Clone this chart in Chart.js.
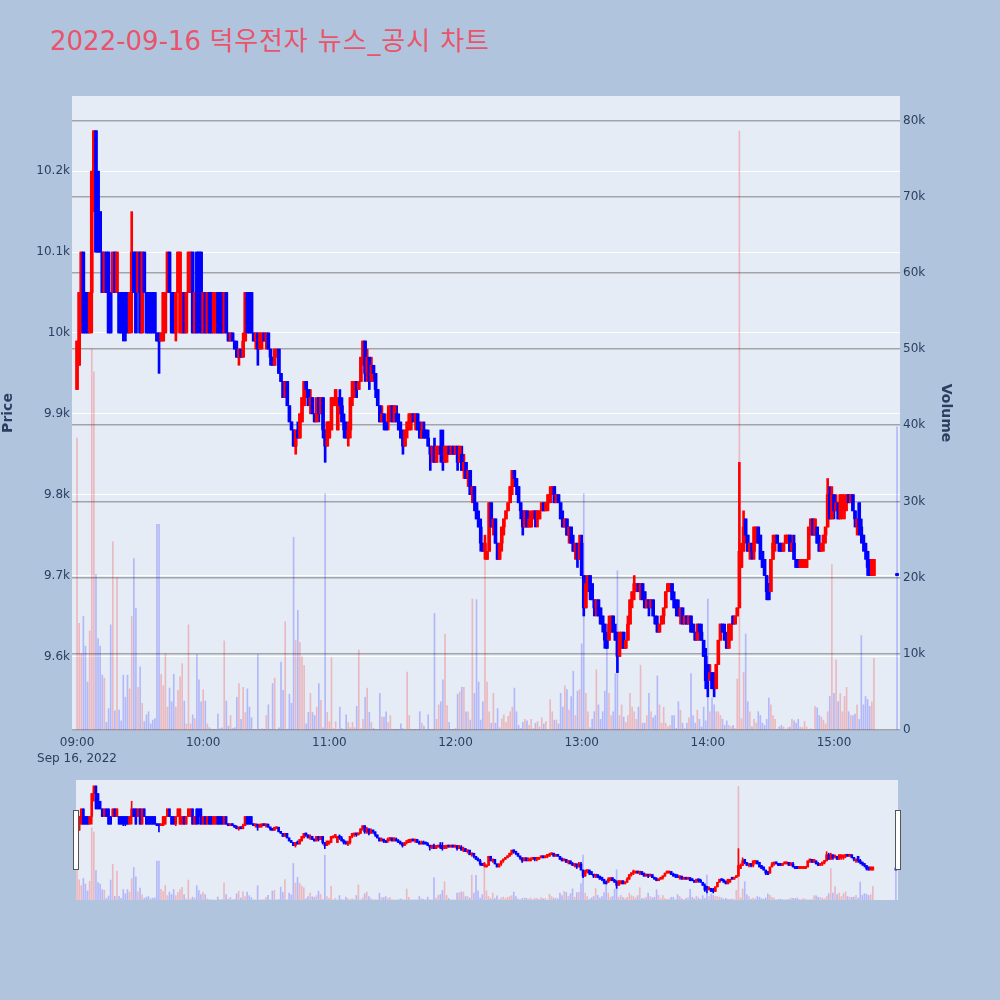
<!DOCTYPE html>
<html>
<head>
<meta charset="utf-8">
<script src="https://cdn.jsdelivr.net/npm/chart.js"></script>
<style>
  body { margin: 0; width: 1000px; height: 1000px; background: #b0c4de; position: relative; overflow: hidden; }
  #title { position: absolute; left: 50px; top: 20px; font: 26px "DejaVu Sans", "Noto Sans CJK KR", sans-serif; color: #e9546b; white-space: nowrap; }
  #title span { letter-spacing: 0.9px; }
  #mainBox { position: absolute; left: 0; top: 0; }
  #sliderBox { position: absolute; left: 76px; top: 780px; }
  .handle { position: absolute; top: 810px; width: 4px; height: 58px; background: #fff; border: 1px solid #555; }
</style>
</head>
<body>
<div id="title">2022-09-16 <span>덕우전자 뉴스_공시 차트</span></div>
<div id="mainBox"><canvas id="mainChart" width="1000" height="770"></canvas></div>
<div id="sliderBox"><canvas id="sliderChart" width="822" height="120"></canvas></div>
<div class="handle" style="left:73px"></div>
<div class="handle" style="left:895px"></div>
<script>
// 1-minute candles 09:00 .. 15:19, then the 15:30 closing auction
const opens = [
  9930, 9960, 10000, 10100, 10050, 10050, 10000, 10050, 10200, 10250,
  10200, 10150, 10100, 10050, 10100, 10100, 10050, 10050, 10100, 10050,
  10050, 10050, 10050, 10050, 10050, 10000, 10050, 10100, 10100, 10050,
  10100, 10000, 10100, 10050, 10050, 10050, 10050, 10050, 10000, 10000,
  9990, 9990, 10000, 10050, 10100, 10050, 10050, 10000, 10050, 10000,
  10000, 10050, 10000, 10050, 10050, 10100, 10000, 10100, 10100, 10100,
  10000, 10050, 10000, 10050, 10050, 10000, 10000, 10050, 10050, 10050,
  10000, 10050, 10000, 9990, 10000, 9990, 9980, 9970, 9980, 9970,
  9990, 10050, 10050, 10050, 10000, 9990, 10000, 9980, 9990, 10000,
  9990, 10000, 9980, 9970, 9960, 9970, 9980, 9950, 9940, 9920,
  9940, 9910, 9890, 9880, 9860, 9880, 9870, 9890, 9910, 9940,
  9930, 9910, 9920, 9900, 9890, 9920, 9900, 9920, 9880, 9860,
  9870, 9880, 9910, 9920, 9880, 9920, 9910, 9890, 9880, 9870,
  9880, 9920, 9930, 9940, 9930, 9940, 9970, 9990, 9950, 9970,
  9940, 9960, 9950, 9930, 9910, 9890, 9900, 9890, 9890, 9900,
  9910, 9890, 9900, 9890, 9880, 9870, 9860, 9880, 9880, 9890,
  9900, 9890, 9900, 9880, 9870, 9880, 9880, 9870, 9860, 9850,
  9860, 9840, 9850, 9860, 9860, 9840, 9850, 9860, 9850, 9860,
  9850, 9860, 9840, 9850, 9830, 9840, 9820, 9830, 9800, 9810,
  9790, 9770, 9760, 9740, 9730, 9720, 9730, 9790, 9760, 9770,
  9740, 9720, 9740, 9760, 9770, 9780, 9790, 9810, 9830, 9820,
  9810, 9790, 9780, 9760, 9780, 9760, 9760, 9770, 9780, 9770,
  9770, 9780, 9790, 9780, 9790, 9790, 9800, 9810, 9790, 9800,
  9790, 9770, 9760, 9770, 9750, 9760, 9740, 9730, 9740, 9720,
  9740, 9700, 9660, 9690, 9700, 9690, 9670, 9660, 9670, 9660,
  9650, 9640, 9620, 9620, 9630, 9650, 9630, 9620, 9600, 9610,
  9630, 9610, 9620, 9640, 9670, 9680, 9680, 9690, 9680, 9690,
  9680, 9660, 9670, 9660, 9670, 9650, 9640, 9630, 9640, 9650,
  9660, 9680, 9680, 9690, 9670, 9670, 9660, 9650, 9660, 9640,
  9650, 9640, 9650, 9640, 9630, 9620, 9640, 9630, 9620, 9600,
  9590, 9570, 9580, 9570, 9560, 9590, 9620, 9640, 9630, 9620,
  9610, 9620, 9650, 9640, 9650, 9660, 9710, 9730, 9770, 9750,
  9730, 9740, 9730, 9750, 9760, 9750, 9730, 9720, 9700, 9690,
  9680, 9720, 9740, 9750, 9740, 9740, 9730, 9740, 9740, 9750,
  9730, 9740, 9720, 9720, 9710, 9710, 9710, 9710, 9720, 9760,
  9770, 9750, 9760, 9740, 9730, 9740, 9750, 9760, 9800, 9770,
  9800, 9780, 9790, 9770, 9780, 9780, 9790, 9800, 9790, 9800,
  9780, 9760, 9790, 9760, 9750, 9740, 9730, 9720, 9700, 9700,
  9700
];
const highs = [
  9990, 10050, 10100, 10100, 10050, 10050, 10050, 10200, 10250, 10250,
  10200, 10150, 10100, 10100, 10100, 10100, 10050, 10100, 10100, 10100,
  10050, 10050, 10050, 10050, 10050, 10050, 10150, 10100, 10100, 10100,
  10100, 10100, 10100, 10050, 10050, 10050, 10050, 10050, 10000, 10000,
  10000, 10050, 10050, 10100, 10100, 10050, 10050, 10050, 10100, 10100,
  10050, 10050, 10050, 10100, 10100, 10100, 10050, 10100, 10100, 10100,
  10050, 10050, 10050, 10050, 10050, 10050, 10050, 10050, 10050, 10050,
  10050, 10050, 10000, 10000, 10000, 9990, 9990, 9980, 9980, 10000,
  10050, 10050, 10050, 10050, 10000, 10000, 10000, 10000, 10000, 10000,
  10000, 10000, 9980, 9970, 9980, 9980, 9980, 9950, 9940, 9940,
  9940, 9910, 9890, 9880, 9880, 9890, 9900, 9920, 9940, 9940,
  9930, 9930, 9920, 9900, 9920, 9920, 9920, 9920, 9880, 9890,
  9890, 9920, 9920, 9930, 9920, 9930, 9920, 9900, 9890, 9890,
  9920, 9940, 9940, 9940, 9940, 9970, 9990, 9990, 9980, 9970,
  9970, 9960, 9950, 9930, 9910, 9910, 9900, 9890, 9910, 9910,
  9910, 9910, 9910, 9900, 9890, 9880, 9880, 9890, 9900, 9900,
  9900, 9900, 9900, 9890, 9890, 9890, 9880, 9880, 9860, 9860,
  9870, 9860, 9860, 9880, 9880, 9860, 9860, 9860, 9860, 9860,
  9860, 9860, 9860, 9860, 9850, 9840, 9830, 9830, 9810, 9810,
  9790, 9780, 9770, 9740, 9750, 9730, 9790, 9790, 9770, 9770,
  9740, 9740, 9760, 9770, 9780, 9790, 9810, 9830, 9830, 9820,
  9810, 9790, 9780, 9780, 9780, 9780, 9780, 9780, 9780, 9780,
  9780, 9790, 9790, 9790, 9800, 9810, 9810, 9810, 9800, 9800,
  9790, 9780, 9770, 9770, 9760, 9760, 9750, 9740, 9740, 9750,
  9750, 9700, 9700, 9700, 9700, 9690, 9670, 9670, 9670, 9660,
  9650, 9640, 9630, 9650, 9650, 9650, 9640, 9630, 9630, 9630,
  9630, 9620, 9650, 9670, 9680, 9700, 9690, 9690, 9690, 9690,
  9680, 9670, 9670, 9670, 9670, 9650, 9650, 9640, 9650, 9660,
  9680, 9690, 9690, 9690, 9680, 9670, 9670, 9660, 9660, 9650,
  9650, 9650, 9650, 9640, 9630, 9640, 9640, 9640, 9620, 9610,
  9590, 9590, 9580, 9580, 9590, 9620, 9640, 9640, 9640, 9630,
  9640, 9640, 9650, 9650, 9660, 9840, 9740, 9780, 9770, 9750,
  9740, 9740, 9760, 9760, 9760, 9750, 9730, 9720, 9700, 9690,
  9720, 9750, 9750, 9750, 9740, 9740, 9740, 9750, 9750, 9750,
  9750, 9750, 9720, 9720, 9720, 9720, 9720, 9720, 9760, 9770,
  9770, 9770, 9760, 9750, 9740, 9750, 9760, 9820, 9810, 9810,
  9800, 9800, 9790, 9800, 9800, 9800, 9800, 9800, 9800, 9800,
  9780, 9770, 9790, 9770, 9750, 9740, 9730, 9720, 9720, 9720,
  9700
];
const lows = [
  9930, 9960, 10000, 10000, 10000, 10000, 10000, 10000, 10150, 10100,
  10100, 10100, 10050, 10050, 10050, 10000, 10000, 10050, 10050, 10050,
  10000, 10000, 9990, 9990, 10000, 10000, 10000, 10050, 10000, 10050,
  10000, 10000, 10050, 10000, 10000, 10000, 10000, 10000, 9990, 9950,
  9990, 9990, 10000, 10050, 10050, 10000, 10000, 9990, 10050, 10000,
  10000, 10000, 10000, 10050, 10050, 10000, 10000, 10000, 10000, 10000,
  10000, 10000, 10000, 10000, 10000, 10000, 10000, 10000, 10000, 10000,
  10000, 10000, 9990, 9990, 9990, 9980, 9970, 9960, 9970, 9970,
  9990, 10000, 10000, 10000, 9990, 9980, 9960, 9980, 9980, 9990,
  9980, 9980, 9960, 9960, 9960, 9970, 9950, 9940, 9920, 9920,
  9910, 9890, 9880, 9860, 9850, 9870, 9870, 9890, 9910, 9920,
  9910, 9900, 9900, 9890, 9890, 9890, 9900, 9870, 9840, 9860,
  9870, 9880, 9910, 9910, 9880, 9900, 9890, 9870, 9870, 9860,
  9870, 9910, 9920, 9920, 9930, 9940, 9960, 9940, 9940, 9930,
  9940, 9940, 9920, 9910, 9890, 9890, 9880, 9880, 9880, 9890,
  9890, 9890, 9890, 9880, 9870, 9850, 9860, 9870, 9880, 9880,
  9890, 9880, 9880, 9870, 9870, 9870, 9870, 9860, 9830, 9840,
  9840, 9840, 9850, 9840, 9830, 9840, 9840, 9850, 9850, 9850,
  9850, 9830, 9840, 9830, 9820, 9820, 9810, 9800, 9790, 9780,
  9770, 9760, 9730, 9730, 9720, 9720, 9730, 9760, 9750, 9740,
  9720, 9720, 9730, 9750, 9770, 9780, 9790, 9800, 9810, 9800,
  9790, 9770, 9750, 9760, 9760, 9760, 9760, 9770, 9760, 9760,
  9770, 9780, 9780, 9780, 9780, 9790, 9800, 9790, 9790, 9790,
  9770, 9760, 9760, 9750, 9740, 9740, 9730, 9720, 9710, 9720,
  9700, 9650, 9660, 9680, 9670, 9670, 9650, 9650, 9650, 9640,
  9630, 9610, 9610, 9620, 9630, 9630, 9620, 9580, 9600, 9610,
  9610, 9610, 9620, 9640, 9660, 9670, 9680, 9680, 9670, 9670,
  9660, 9660, 9650, 9660, 9650, 9640, 9630, 9630, 9640, 9640,
  9660, 9680, 9680, 9670, 9660, 9650, 9650, 9640, 9640, 9640,
  9640, 9640, 9630, 9630, 9620, 9620, 9620, 9620, 9600, 9560,
  9550, 9570, 9560, 9550, 9560, 9590, 9620, 9630, 9620, 9610,
  9610, 9620, 9640, 9640, 9650, 9660, 9710, 9730, 9740, 9730,
  9720, 9720, 9720, 9740, 9740, 9720, 9710, 9700, 9670, 9670,
  9680, 9720, 9730, 9740, 9730, 9730, 9730, 9740, 9740, 9730,
  9730, 9720, 9710, 9710, 9710, 9710, 9710, 9710, 9720, 9750,
  9750, 9750, 9740, 9730, 9730, 9730, 9740, 9760, 9770, 9770,
  9770, 9780, 9770, 9770, 9770, 9770, 9780, 9790, 9790, 9780,
  9760, 9750, 9750, 9740, 9730, 9720, 9700, 9700, 9700, 9700,
  9700
];
const closes = [
  9990, 10050, 10100, 10000, 10000, 10000, 10050, 10200, 10250, 10100,
  10100, 10100, 10050, 10100, 10050, 10000, 10000, 10100, 10050, 10100,
  10000, 10000, 10000, 10000, 10000, 10050, 10100, 10050, 10000, 10100,
  10000, 10100, 10050, 10000, 10000, 10000, 10000, 10000, 9990, 9990,
  10000, 10050, 10050, 10100, 10050, 10000, 10000, 10050, 10100, 10100,
  10050, 10000, 10050, 10100, 10100, 10000, 10050, 10000, 10050, 10000,
  10050, 10000, 10050, 10000, 10000, 10050, 10050, 10000, 10000, 10000,
  10050, 10000, 9990, 10000, 9990, 9980, 9970, 9980, 9970, 9990,
  10050, 10000, 10000, 10000, 9990, 10000, 9980, 10000, 10000, 9990,
  10000, 9980, 9970, 9960, 9980, 9980, 9950, 9940, 9920, 9940,
  9910, 9890, 9880, 9860, 9880, 9870, 9900, 9920, 9940, 9930,
  9910, 9920, 9900, 9890, 9920, 9900, 9920, 9880, 9860, 9890,
  9890, 9920, 9920, 9930, 9920, 9910, 9890, 9880, 9870, 9880,
  9920, 9940, 9940, 9930, 9940, 9970, 9990, 9950, 9970, 9940,
  9960, 9950, 9930, 9910, 9890, 9900, 9890, 9880, 9900, 9910,
  9890, 9910, 9890, 9880, 9870, 9860, 9880, 9890, 9900, 9900,
  9890, 9900, 9880, 9870, 9880, 9870, 9870, 9860, 9850, 9860,
  9840, 9860, 9860, 9850, 9840, 9860, 9860, 9850, 9860, 9850,
  9860, 9840, 9860, 9830, 9840, 9820, 9830, 9800, 9810, 9790,
  9770, 9760, 9740, 9730, 9740, 9730, 9790, 9760, 9770, 9740,
  9720, 9740, 9760, 9770, 9780, 9790, 9810, 9830, 9820, 9810,
  9790, 9780, 9760, 9780, 9760, 9770, 9770, 9780, 9770, 9780,
  9780, 9790, 9780, 9790, 9800, 9800, 9810, 9790, 9800, 9790,
  9770, 9760, 9770, 9750, 9760, 9740, 9730, 9740, 9720, 9740,
  9700, 9660, 9690, 9700, 9680, 9670, 9660, 9670, 9650, 9640,
  9640, 9620, 9610, 9640, 9650, 9630, 9620, 9600, 9630, 9630,
  9610, 9620, 9640, 9670, 9680, 9690, 9690, 9680, 9690, 9670,
  9660, 9670, 9660, 9670, 9650, 9640, 9630, 9640, 9650, 9660,
  9680, 9690, 9690, 9670, 9660, 9660, 9650, 9660, 9640, 9650,
  9640, 9650, 9630, 9630, 9620, 9640, 9630, 9620, 9600, 9570,
  9580, 9580, 9560, 9560, 9590, 9620, 9640, 9630, 9620, 9610,
  9640, 9640, 9640, 9650, 9660, 9730, 9730, 9760, 9750, 9730,
  9740, 9730, 9760, 9760, 9740, 9720, 9710, 9700, 9680, 9670,
  9720, 9740, 9750, 9740, 9730, 9730, 9740, 9750, 9750, 9730,
  9740, 9720, 9710, 9710, 9720, 9720, 9720, 9720, 9760, 9770,
  9750, 9770, 9740, 9730, 9740, 9750, 9760, 9800, 9770, 9800,
  9780, 9790, 9770, 9800, 9800, 9790, 9800, 9790, 9800, 9780,
  9770, 9770, 9760, 9750, 9740, 9730, 9710, 9700, 9720, 9720,
  9700
];
const volumes = [
  38300, 14000, 10000, 14900, 11000, 6300, 13000, 50000, 47000, 20400,
  12000, 11000, 7200, 6800, 1000, 2800, 13800, 24700, 2500, 20000,
  2600, 1200, 7200, 4300, 7200, 5400, 14900, 22500, 16000, 5600,
  8300, 3500, 1100, 2000, 2400, 800, 1300, 1500, 27000, 27000,
  7300, 5800, 10000, 3000, 5500, 3700, 7300, 3000, 5200, 7000,
  8700, 3800, 800, 13800, 800, 2000, 1500, 9900, 6600, 3700,
  5300, 3800, 800, 300, 100, 50, 50, 2100, 200, 300,
  11700, 3800, 500, 1900, 200, 300, 4300, 6100, 1400, 5600,
  2300, 5400, 3000, 1600, 100, 100, 9900, 50, 200, 50,
  1900, 3300, 100, 6100, 6800, 100, 300, 8900, 5200, 14200,
  100, 4700, 3500, 25300, 11800, 15700, 11500, 9600, 8500, 800,
  2300, 4800, 2300, 1900, 3000, 6100, 3900, 300, 31000, 2300,
  1100, 9500, 200, 1100, 100, 3000, 200, 100, 2000, 1000,
  300, 1000, 300, 3100, 10500, 200, 1400, 4300, 5500, 2300,
  1000, 200, 100, 100, 4800, 1700, 1700, 2400, 1000, 1900,
  100, 50, 50, 100, 800, 200, 100, 7600, 1900, 100,
  100, 50, 100, 2400, 900, 500, 100, 2000, 100, 50,
  15300, 1400, 3300, 3700, 6600, 12600, 3200, 1000, 100, 50,
  200, 4700, 5000, 5600, 5600, 2400, 2400, 1300, 17200, 4800,
  17100, 6300, 1300, 3700, 24000, 6300, 2400, 900, 4800, 900,
  2800, 300, 1500, 2000, 1000, 1800, 2400, 3000, 5500, 2400,
  600, 200, 1000, 1400, 1200, 600, 1400, 200, 900, 1100,
  400, 1600, 800, 1100, 100, 4000, 2400, 1300, 1300, 800,
  4800, 3000, 5800, 5300, 2600, 4400, 7700, 1900, 5100, 5300,
  11300, 31000, 4800, 2400, 300, 1400, 2400, 7900, 3300, 1400,
  2400, 5100, 10800, 4800, 1900, 2400, 7400, 20900, 1900, 3300,
  1700, 1000, 1900, 4800, 3000, 2400, 1400, 3000, 8500, 900,
  900, 1900, 4800, 2400, 1600, 1900, 7100, 3300, 900, 3000,
  900, 400, 600, 1900, 1900, 200, 3700, 2600, 900, 200,
  900, 1600, 7400, 1900, 900, 2600, 1400, 400, 3000, 1200,
  17200, 2400, 4200, 3300, 2400, 2400, 1900, 1400, 600, 1200,
  600, 400, 600, 200, 6700, 78600, 1500, 7600, 12600, 3700,
  2400, 400, 1400, 900, 2400, 1900, 900, 600, 1400, 4200,
  3300, 1900, 1400, 100, 400, 600, 400, 100, 300, 400,
  1400, 1200, 900, 1400, 400, 300, 1100, 400, 100, 200,
  100, 3100, 2900, 1900, 1700, 1300, 800, 2400, 4400, 21700,
  4800, 9200, 3700, 4800, 2400, 4400, 5600, 2400, 1900, 1900,
  2100, 3300, 1400, 12400, 3300, 4400, 4000, 3100, 3700, 9400,
  39800
];

// axis ticks
const hourTicks = [540, 600, 660, 720, 780, 840, 900];
const hourLabels = ['09:00', '10:00', '11:00', '12:00', '13:00', '14:00', '15:00'];
const dateLabel = 'Sep 16, 2022';
const priceTicks = [9600, 9700, 9800, 9900, 10000, 10100, 10200];
const volumeTicks = [0, 10000, 20000, 30000, 40000, 50000, 60000, 70000, 80000];

const firstMinute = 9 * 60;          // 09:00
const auctionMinute = 15 * 60 + 30;  // 15:30 closing price
const minutes = opens.map((_, i) => i < opens.length - 1 ? firstMinute + i : auctionMinute);

const UP = '#ff0000';
const DOWN = '#0000ff';
const isUp = closes.map((c, i) => c > opens[i]);

Chart.defaults.font.family = '"DejaVu Sans", Verdana, sans-serif';
Chart.defaults.color = '#2a3f5f';

// plotly-like plot background
const plotBg = {
  id: 'plotBg',
  beforeDraw(chart) {
    const { ctx, chartArea: a } = chart;
    ctx.save();
    ctx.fillStyle = '#e5ecf6';
    ctx.fillRect(a.left, a.top, a.right - a.left, a.bottom - a.top);
    ctx.restore();
  }
};

function buildDatasets(bodyW, wickW, volW) {
  return [
    {
      label: 'body',
      data: minutes.map((x, i) => ({ x: x, y: [opens[i], closes[i]] })),
      backgroundColor: isUp.map(u => u ? UP : DOWN),
      barThickness: bodyW,
      minBarLength: 2,
      grouped: false,
      yAxisID: 'y',
      order: 1
    },
    {
      label: 'wick',
      data: minutes.map((x, i) => ({ x: x, y: [lows[i], highs[i]] })),
      backgroundColor: isUp.map(u => u ? UP : DOWN),
      barThickness: wickW,
      minBarLength: 2,
      grouped: false,
      yAxisID: 'y',
      order: 2
    },
    {
      label: 'Volume',
      data: minutes.map((x, i) => ({ x: x, y: volumes[i] })),
      backgroundColor: isUp.map(u => u ? 'rgba(255,0,0,0.22)' : 'rgba(0,0,255,0.22)'),
      barThickness: volW,
      grouped: false,
      yAxisID: 'y2',
      order: 3
    }
  ];
}

new Chart(document.getElementById('mainChart'), {
  type: 'bar',
  data: { datasets: buildDatasets(3, 2, 1) },
  options: {
    responsive: false,
    animation: false,
    layout: { padding: { top: 96, left: 0, right: 46, bottom: 0 } },
    plugins: { legend: { display: false }, tooltip: { enabled: false } },
    scales: {
      x: {
        type: 'linear',
        offset: false,
        min: 537.6,
        max: 931.4,
        grid: { display: false, drawTicks: false, offset: false },
        border: { display: false },
        afterBuildTicks: s => { s.ticks = hourTicks.map(v => ({ value: v })); },
        afterFit: s => { s.height = 40; },
        ticks: {
          autoSkip: false,
          maxRotation: 0,
          padding: 4,
          font: { size: 12, lineHeight: 1.4 },
          callback: (v, i) => i === 0 ? [hourLabels[0], dateLabel] : hourLabels[i]
        }
      },
      y: {
        position: 'left',
        min: 9509,
        max: 10293,
        grid: { color: '#ffffff', lineWidth: 1, drawTicks: false },
        border: { display: false },
        afterBuildTicks: s => { s.ticks = priceTicks.map(v => ({ value: v })); },
        afterFit: s => { s.width = 72; },
        ticks: { padding: 2, font: { size: 12 }, callback: v => (v / 1000) + 'k' },
        title: { display: true, text: 'Price', padding: { top: 0, bottom: 0 }, font: { size: 14, weight: 'bold' } }
      },
      y2: {
        position: 'right',
        min: 0,
        max: 83200,
        grid: { color: '#a3a3a8', lineWidth: 1.5, drawTicks: false },
        border: { display: false },
        afterBuildTicks: s => { s.ticks = volumeTicks.map(v => ({ value: v })); },
        afterFit: s => { s.width = 54; },
        ticks: { padding: 3, font: { size: 12 }, callback: v => v === 0 ? '0' : (v / 1000) + 'k' },
        title: { display: true, text: 'Volume', padding: { top: 0, bottom: 0 }, font: { size: 14, weight: 'bold' } }
      }
    }
  },
  plugins: [plotBg]
});

// range slider preview
new Chart(document.getElementById('sliderChart'), {
  type: 'bar',
  data: { datasets: buildDatasets(2, 1, 1) },
  options: {
    responsive: false,
    animation: false,
    layout: { padding: 0 },
    plugins: { legend: { display: false }, tooltip: { enabled: false } },
    scales: {
      x: { type: 'linear', offset: false, min: 539.5, max: 931, display: false },
      y: { min: 9504, max: 10289, display: false },
      y2: { min: 0, max: 83000, display: false }
    }
  },
  plugins: [plotBg]
});
</script>
</body>
</html>
